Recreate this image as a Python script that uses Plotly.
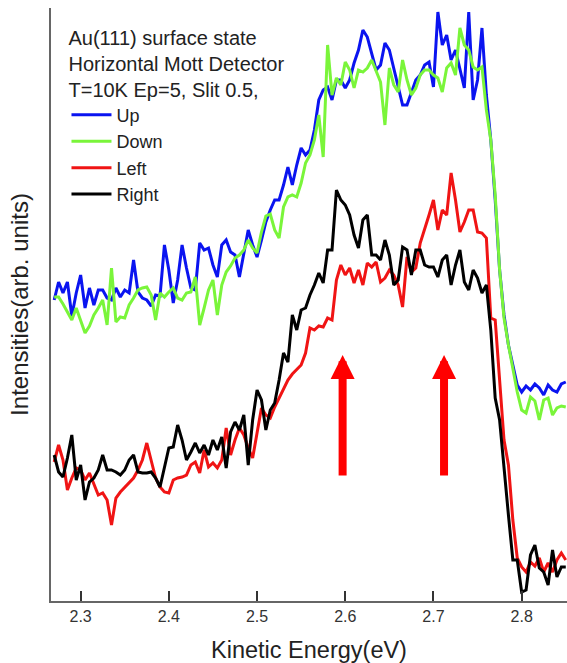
import numpy as np
import plotly.graph_objects as go

# Kinetic energy grid (eV)
energy = np.round(np.arange(117) * 0.005 + 2.270, 3)

# Intensities (arb. units)
up = [301,319,308,319,285,308,326,293,313,296,
      311,311,303,301,313,304,311,308,341,309,
      303,301,295,306,305,356,331,298,321,356,
      333,313,311,358,351,353,336,324,356,361,
      349,346,324,346,371,356,344,361,379,391,
      401,401,416,434,416,436,453,446,451,471,
      501,511,514,501,521,521,513,521,538,551,
      571,564,548,531,536,558,551,533,514,496,
      496,508,521,526,536,539,514,589,556,566,
      541,551,531,513,589,501,521,573,506,461,
      401,331,286,256,236,216,209,215,211,217,
      213,206,216,211,209,217,219]

down = [304,304,297,289,281,293,281,268,275,286,
        293,301,276,333,279,284,283,296,303,311,
        313,314,306,281,308,304,309,313,303,301,
        308,309,324,276,293,311,321,286,316,329,
        335,343,346,351,361,353,348,369,385,387,
        371,363,394,404,406,404,418,438,446,461,
        486,444,556,506,523,516,539,531,513,531,
        529,533,541,529,519,476,533,516,509,541,
        521,506,513,526,531,531,526,523,509,533,
        538,526,573,556,551,534,531,534,491,461,
        406,331,283,256,231,209,191,188,204,200,
        181,201,203,186,193,195,194]

left = [139,156,141,111,123,133,131,121,128,116,
        106,108,101,76,103,109,114,118,123,131,
        141,158,139,123,114,109,108,121,123,124,
        126,136,139,128,151,134,138,133,141,173,
        146,161,173,166,153,143,168,193,186,183,
        194,203,211,221,227,231,236,248,273,271,
        275,274,283,281,321,336,326,333,318,331,
        316,338,334,339,319,323,331,326,316,294,
        344,329,333,358,371,386,401,371,391,386,
        428,401,369,379,391,391,369,368,363,283,
        281,216,161,136,81,43,34,29,39,35,
        43,29,38,29,41,48,41]

right = [146,129,124,143,166,121,136,101,119,123,
         131,146,131,131,129,126,131,141,146,129,
         128,128,129,123,114,133,153,154,176,161,
         141,149,158,148,156,146,161,151,164,133,
         169,179,171,186,136,181,211,201,171,191,
         198,221,248,239,286,271,291,293,306,316,
         328,318,351,351,411,401,396,386,366,353,
         381,386,346,346,341,361,346,316,321,354,
         351,326,351,351,336,334,334,324,341,346,
         316,336,351,319,311,331,323,308,316,271,
         203,181,131,86,41,41,9,11,46,56,
         33,29,16,51,24,34,34]

series_names = ["Up", "Down", "Left", "Right"]
series_colors = ["#0a14f0", "#7af53a", "#f01414", "#000000"]

tick_vals = [2.3, 2.4, 2.5, 2.6, 2.7, 2.8]
tick_text = ["2.3", "2.4", "2.5", "2.6", "2.7", "2.8"]

arrow_energy = [2.597, 2.712]
arrow_tip = 246
arrow_tail = 124

FONT = "Liberation Sans, Arial, sans-serif"

fig = go.Figure()
for name, vals, col in zip(series_names, [up, down, left, right], series_colors):
    fig.add_trace(go.Scatter(x=energy, y=vals, mode="lines", name=name,
                             line=dict(color=col, width=3)))

for e in arrow_energy:
    fig.add_annotation(x=e, y=arrow_tip, ax=e, ay=arrow_tail,
                       xref="x", yref="y", axref="x", ayref="y",
                       text="", showarrow=True, arrowhead=2, arrowsize=0.6,
                       arrowwidth=8, arrowcolor="#ff0000")

fig.update_layout(
    width=567, height=663,
    margin=dict(l=51, r=0, t=8, b=62),
    plot_bgcolor="white", paper_bgcolor="white",
    font=dict(family=FONT, color="#333333"),
    showlegend=True,
    legend=dict(
        x=0.03, y=0.982, xanchor="left", yanchor="top",
        bgcolor="rgba(0,0,0,0)", borderwidth=0,
        font=dict(size=18, color="#222222", family=FONT),
        title=dict(text="Au(111) surface state<br>Horizontal Mott Detector<br>T=10K Ep=5, Slit 0.5,",
                   font=dict(size=20, color="#222222", family=FONT), side="top"),
        itemwidth=40, tracegroupgap=0,
    ),
    xaxis=dict(
        range=[2.2664, 2.8514], showgrid=False, zeroline=False,
        showline=True, linecolor="#666666", linewidth=2, mirror=False,
        ticks="inside", ticklen=10, tickwidth=2, tickcolor="#333333",
        tickvals=tick_vals, ticktext=tick_text,
        tickfont=dict(size=16, color="#333333", family=FONT),
        title=dict(text="Kinetic Energy(eV)", font=dict(size=23.5, color="#222222", family=FONT), standoff=17),
    ),
    yaxis=dict(
        range=[0, 593], showgrid=False, zeroline=False,
        showline=True, linecolor="#666666", linewidth=2,
        showticklabels=False, ticks="",
        title=dict(text="Intensities(arb. units)", font=dict(size=24, color="#222222", family=FONT), standoff=14),
    ),
)

fig.write_html("out.html", config={"displayModeBar": False},
               post_script="document.body.style.margin='0';")
